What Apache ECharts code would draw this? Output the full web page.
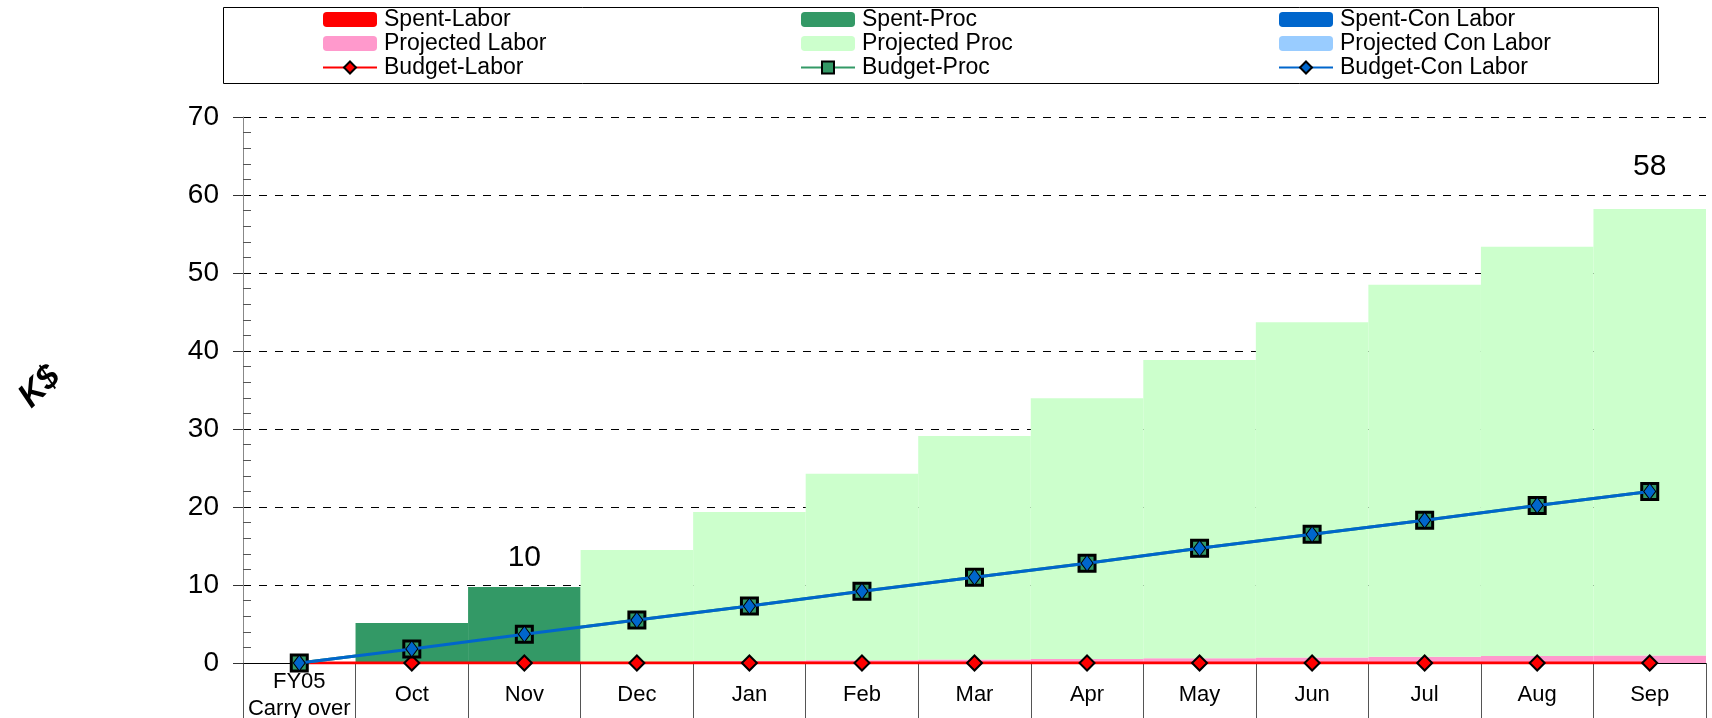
<!DOCTYPE html>
<html>
<head>
<meta charset="utf-8">
<script src="https://cdn.jsdelivr.net/npm/echarts@6/dist/echarts.min.js"></script>
<style>
html,body{margin:0;padding:0;background:#fff;}
#chart{width:1712px;height:718px;}
</style>
</head>
<body>
<div id="chart"></div>
<script>
const categories = ['FY05\nCarry over','Oct','Nov','Dec','Jan','Feb','Mar','Apr','May','Jun','Jul','Aug','Sep'];
const spentLabor        = [null, 0, 0, null, null, null, null, null, null, null, null, null, null];
const spentProc         = [null, 5.13, 9.74, null, null, null, null, null, null, null, null, null, null];
const spentConLabor     = [null, 0, 0, null, null, null, null, null, null, null, null, null, null];
const projectedLabor    = [null, null, null, 0.1, 0.25, 0.35, 0.45, 0.5, 0.6, 0.7, 0.8, 0.9, 0.95];
const projectedProc     = [null, null, null, 14.4, 19.1, 23.9, 28.65, 33.45, 38.25, 43.0, 47.7, 52.45, 57.25];
const projectedConLabor = [null, null, null, 0, 0, 0, 0, 0, 0, 0, 0, 0, 0];
const budgetLabor       = [0, 0, 0, 0, 0, 0, 0, 0, 0, 0, 0, 0, 0];
const budgetProc        = [0, 1.8, 3.7, 5.5, 7.3, 9.2, 11.0, 12.8, 14.7, 16.5, 18.3, 20.2, 22.0];
const budgetConLabor    = [0, 1.8, 3.7, 5.5, 7.3, 9.2, 11.0, 12.8, 14.7, 16.5, 18.3, 20.2, 22.0];
const yTicks = [0, 10, 20, 30, 40, 50, 60, 70];
const totalLabelMonths = ['Nov', 'Sep'];

const FONT = "'Liberation Sans', Arial, sans-serif";

function totalAt(i) {
  return [spentLabor, spentProc, spentConLabor, projectedLabor, projectedProc, projectedConLabor]
    .reduce((s, a) => s + (a[i] || 0), 0);
}
function withTotalLabel(arr, distance) {
  return arr.map((v, i) => {
    if (v == null) return v;
    if (totalLabelMonths.indexOf(categories[i]) >= 0) {
      return {
        value: v,
        label: {
          show: true, position: 'top', distance: distance,
          formatter: String(Math.round(totalAt(i))),
          fontSize: 30, color: '#000', fontFamily: FONT
        }
      };
    }
    return v;
  });
}

const chart = echarts.init(document.getElementById('chart'), null, {renderer: 'canvas'});

function barSeries(name, data, color) {
  return { name, type: 'bar', stack: 'total', data, barCategoryGap: '0%', barGap: '0%',
    itemStyle: { color }, emphasis: { disabled: true }, z: 2 };
}

const legendCommon = {
  orient: 'vertical', top: 8, itemWidth: 54, itemHeight: 15, itemGap: 1, padding: 0,
  textStyle: { fontSize: 23, fontFamily: FONT, color: '#000', padding: [0, 0, 0, 2] },
  selectedMode: false
};

chart.setOption({
  animation: false,
  backgroundColor: '#fff',
  grid: { left: 243, right: 6, top: 117, bottom: 55, containLabel: false, outerBoundsMode: 'none' },
  legend: [
    Object.assign({ left: 322, data: ['Spent-Labor', 'Projected Labor', 'Budget-Labor'] }, legendCommon),
    Object.assign({ left: 800, data: ['Spent-Proc', 'Projected Proc', 'Budget-Proc'] }, legendCommon),
    Object.assign({ left: 1278, data: ['Spent-Con Labor', 'Projected Con Labor', 'Budget-Con Labor'] }, legendCommon)
  ],
  graphic: [
    { type: 'rect', left: 221, top: 5, z: -1,
      shape: { width: 1435, height: 76 },
      style: { fill: 'none', stroke: '#000', lineWidth: 1 } },
    { type: 'text', x: 40, y: 387, rotation: Math.PI / 4, z: 10,
      style: { text: 'K$', font: "italic bold 34px 'Liberation Sans', Arial, sans-serif",
        fill: '#000', align: 'center', verticalAlign: 'middle' } }
  ],
  xAxis: {
    type: 'category', data: categories, boundaryGap: true,
    axisLine: { show: true, onZero: true, lineStyle: { color: '#000', width: 1 } },
    axisTick: { show: true, length: 56, lineStyle: { color: '#555', width: 1 } },
    axisLabel: { interval: 0, margin: 32, verticalAlign: 'middle', fontSize: 22, lineHeight: 27,
      color: '#000', fontFamily: FONT },
    splitLine: { show: false }
  },
  yAxis: [
    {
      type: 'value', min: yTicks[0], max: yTicks[yTicks.length - 1], interval: 10,
      axisLine: { show: true, lineStyle: { color: '#888', width: 1 } },
      axisTick: { show: true, inside: false, length: 10, lineStyle: { color: '#333' } },
      axisLabel: { margin: 24, fontSize: 28, color: '#000', fontFamily: FONT },
      splitLine: { show: true, lineStyle: { color: '#000', type: [8, 8], width: 1 } },
      z: 1
    },
    {
      type: 'value', min: yTicks[0], max: yTicks[yTicks.length - 1], interval: 10, position: 'left',
      axisLine: { show: false },
      axisTick: { show: false, inside: true },
      minorTick: { show: true, splitNumber: 5, length: 8, lineStyle: { color: '#555' } },
      axisLabel: { show: false },
      splitLine: { show: false },
      z: 1
    }
  ],
  series: [
    barSeries('Spent-Labor', spentLabor, '#FF0000'),
    barSeries('Spent-Proc', withTotalLabel(spentProc, 14), '#339966'),
    barSeries('Spent-Con Labor', spentConLabor, '#0066CC'),
    barSeries('Projected Labor', projectedLabor, '#FF99CC'),
    barSeries('Projected Proc', withTotalLabel(projectedProc, 27), '#CCFFCC'),
    barSeries('Projected Con Labor', projectedConLabor, '#99CCFF'),
    { name: 'Budget-Labor', type: 'line', data: budgetLabor, z: 5,
      symbol: 'diamond', symbolSize: [15, 15], showAllSymbol: true,
      lineStyle: { color: '#FF0000', width: 3 },
      itemStyle: { color: '#FF0000', borderColor: '#000', borderWidth: 2 },
      emphasis: { disabled: true } },
    { name: 'Budget-Proc', type: 'line', data: budgetProc, z: 6,
      symbol: 'rect', symbolSize: 16, showAllSymbol: true,
      lineStyle: { color: '#339966', width: 3 },
      itemStyle: { color: '#339966', borderColor: '#000', borderWidth: 3 },
      emphasis: { disabled: true } },
    { name: 'Budget-Con Labor', type: 'line', data: budgetConLabor, z: 7,
      symbol: 'diamond', symbolSize: [12, 16], showAllSymbol: true,
      lineStyle: { color: '#0066CC', width: 3 },
      itemStyle: { color: '#0066CC', borderColor: '#000', borderWidth: 1 },
      emphasis: { disabled: true } }
  ]
});
</script>
</body>
</html>
